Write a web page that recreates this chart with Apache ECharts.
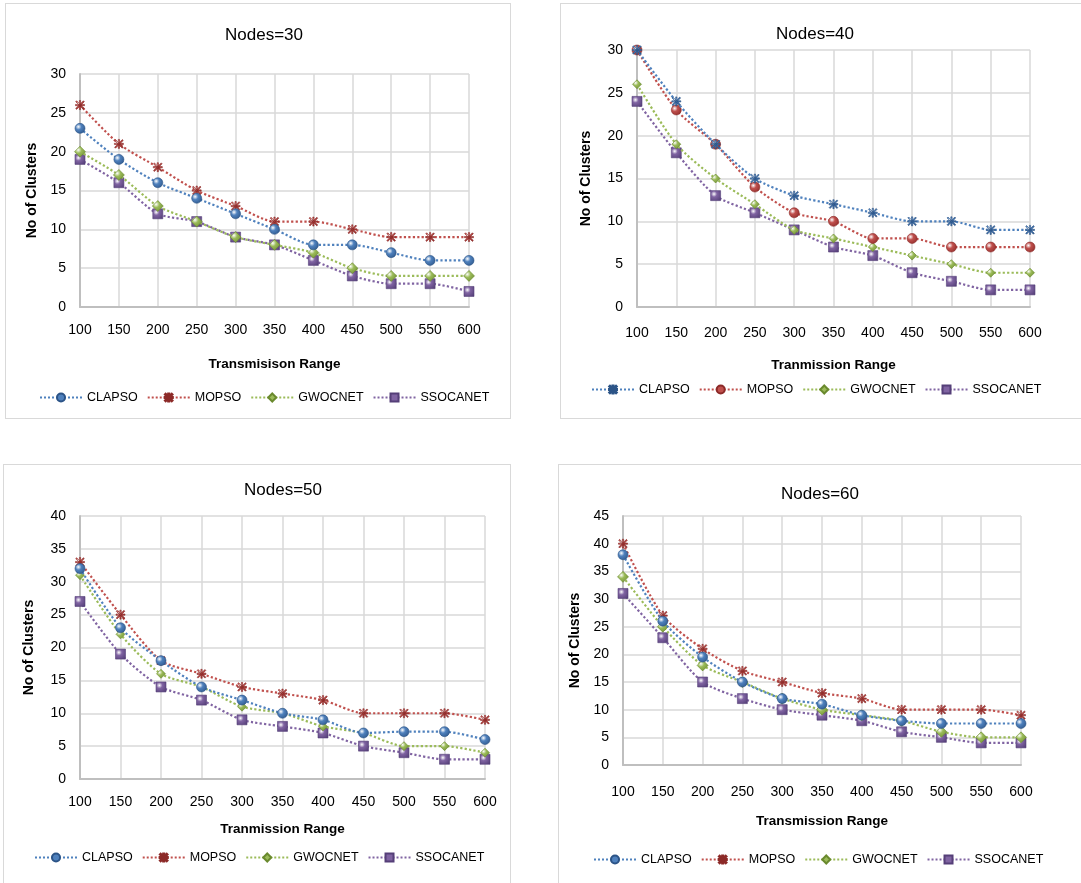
<!DOCTYPE html>
<html>
<head>
<meta charset="utf-8">
<script src="https://cdn.jsdelivr.net/npm/echarts@6/dist/echarts.min.js"></script>
<style>
  body { margin: 0; background: #fff; width: 1081px; height: 883px; position: relative; overflow: hidden; }
  .panel { position: absolute; border: 1.5px solid #d9d9d9; box-sizing: border-box; background: #fff; }
</style>
</head>
<body>
<div class="panel" id="p30" style="left:5px; top:3px; width:506px; height:416px;"></div>
<div class="panel" id="p40" style="left:560px; top:3px; width:523px; height:416px;"></div>
<div class="panel" id="p50" style="left:3px; top:464px; width:508px; height:421px;"></div>
<div class="panel" id="p60" style="left:558px; top:464px; width:525px; height:421px;"></div>
<script>
// transmission range (x axis)
const ranges = ['100', '150', '200', '250', '300', '350', '400', '450', '500', '550', '600']
const names = ['CLAPSO', 'MOPSO', 'GWOCNET', 'SSOCANET']

// Nodes=30
const clapso30 = [23, 19, 16, 14, 12, 10, 8, 8, 7, 6, 6]
const mopso30 = [26, 21, 18, 15, 13, 11, 11, 10, 9, 9, 9]
const gwocnet30 = [20, 17, 13, 11, 9, 8, 7, 5, 4, 4, 4]
const ssocanet30 = [19, 16, 12, 11, 9, 8, 6, 4, 3, 3, 2]

// Nodes=40
const clapso40 = [30, 24, 19, 15, 13, 12, 11, 10, 10, 9, 9]
const mopso40 = [30, 23, 19, 14, 11, 10, 8, 8, 7, 7, 7]
const gwocnet40 = [26, 19, 15, 12, 9, 8, 7, 6, 5, 4, 4]
const ssocanet40 = [24, 18, 13, 11, 9, 7, 6, 4, 3, 2, 2]

// Nodes=50
const clapso50 = [32, 23, 18, 14, 12, 10, 9, 7, 7.2, 7.2, 6]
const mopso50 = [33, 25, 18, 16, 14, 13, 12, 10, 10, 10, 9]
const gwocnet50 = [31, 22, 16, 14, 11, 10, 8, 7, 5, 5, 4]
const ssocanet50 = [27, 19, 14, 12, 9, 8, 7, 5, 4, 3, 3]

// Nodes=60
const clapso60 = [38, 26, 19.5, 15, 12, 11, 9, 8, 7.5, 7.5, 7.5]
const mopso60 = [40, 27, 21, 17, 15, 13, 12, 10, 10, 10, 9]
const gwocnet60 = [34, 25, 18, 15, 12, 10, 9, 8, 6, 5, 5]
const ssocanet60 = [31, 23, 15, 12, 10, 9, 8, 6, 5, 4, 4]

const colors = ['#4F81BD', '#C0504D', '#9BBB59', '#8064A2']
const dark = ['#2c5487', '#8c2a28', '#6a8a2e', '#553f78']
const star = 'path://M4.3,0h1.4v10h-1.4z M0.2,1.2l1,-1l8.6,8.6l-1,1z M8.8,0.2l1,1l-8.6,8.6l-1,-1z M0,4.3h10v1.4h-10z'
const font = 'Liberation Sans'

function makeChart(id, cfg) {
  const chart = echarts.init(document.getElementById(id))
  const series = cfg.data.map((d, i) => ({
    name: names[i],
    type: 'line',
    data: d,
    smooth: 0.25,
    symbol: cfg.symbols[i],
    symbolSize: cfg.sizes[i],
    symbolKeepAspect: true,
    lineStyle: { type: 'dotted', width: 2.2, color: colors[i] },
    itemStyle: {
      color: new echarts.graphic.RadialGradient(0.35, 0.35, 0.8, [
        { offset: 0, color: '#ffffff' },
        { offset: 0.35, color: colors[i] },
        { offset: 1, color: dark[i] }
      ]),
      borderColor: dark[i],
      borderWidth: 0.6
    },
    z: 10 - i
  }))
  chart.setOption({
    animation: false,
    textStyle: { fontFamily: font },
    title: {
      text: cfg.title,
      left: cfg.titleX,
      top: cfg.titleY,
      textAlign: 'center',
      textStyle: { fontFamily: font, fontSize: 17, fontWeight: 'normal', color: '#000' }
    },
    legend: {
      data: names.map((n, i) => ({ name: n, itemStyle: { color: colors[i] } })),
      left: cfg.legendX,
      top: cfg.legendY,
      itemWidth: 42,
      itemHeight: 10,
      itemGap: cfg.legendGap,
      textStyle: { fontFamily: font, fontSize: 12.5, color: '#000' }
    },
    grid: cfg.grid,
    xAxis: {
      type: 'category',
      data: ranges,
      boundaryGap: false,
      name: cfg.xName,
      nameLocation: 'middle',
      nameGap: cfg.xNameGap,
      nameTextStyle: { fontFamily: font, fontSize: 13.5, fontWeight: 'bold', color: '#000' },
      axisLine: { lineStyle: { color: '#bfbfbf', width: 2 } },
      axisTick: { show: false },
      axisLabel: { margin: cfg.xLabelMargin, fontSize: 14, color: '#000', fontFamily: font },
      splitLine: { show: true, lineStyle: { color: '#d9d9d9', width: 1.5 } }
    },
    yAxis: {
      type: 'value',
      min: 0,
      max: cfg.yMax,
      interval: 5,
      name: 'No of Clusters',
      nameLocation: 'middle',
      nameGap: cfg.yNameGap,
      nameTextStyle: { fontFamily: font, fontSize: 14, fontWeight: 'bold', color: '#000' },
      axisLine: { show: true, lineStyle: { color: '#bfbfbf', width: 2 } },
      axisTick: { show: false },
      axisLabel: { margin: 14, fontSize: 14, color: '#000', fontFamily: font },
      splitLine: { show: true, lineStyle: { color: '#d9d9d9', width: 1.5 } }
    },
    series: series
  })
}

makeChart('p30', {
  title: 'Nodes=30', titleX: 253, titleY: 18,
  grid: { left: 74, top: 70, width: 389, height: 233 },
  yMax: 30, xName: 'Transmisison Range', xNameGap: 50, yNameGap: 40, xLabelMargin: 16,
  legendX: 28, legendY: 382, legendGap: 9,
  data: [clapso30, mopso30, gwocnet30, ssocanet30],
  symbols: ['circle', star, 'diamond', 'rect'],
  sizes: [10, 9, 11, 10]
})

makeChart('p40', {
  title: 'Nodes=40', titleX: 249, titleY: 17,
  grid: { left: 76, top: 46, width: 393, height: 257 },
  yMax: 30, xName: 'Tranmission Range', xNameGap: 51, yNameGap: 44, xLabelMargin: 19,
  legendX: 25, legendY: 374, legendGap: 9,
  data: [clapso40, mopso40, gwocnet40, ssocanet40],
  symbols: [star, 'circle', 'diamond', 'rect'],
  sizes: [9, 10, 9, 10]
})

makeChart('p50', {
  title: 'Nodes=50', titleX: 274, titleY: 12,
  grid: { left: 76, top: 51, width: 405, height: 263 },
  yMax: 40, xName: 'Tranmission Range', xNameGap: 43, yNameGap: 44, xLabelMargin: 16,
  legendX: 25, legendY: 381, legendGap: 9,
  data: [clapso50, mopso50, gwocnet50, ssocanet50],
  symbols: ['circle', star, 'diamond', 'rect'],
  sizes: [10, 9, 9, 10]
})

makeChart('p60', {
  title: 'Nodes=60', titleX: 256, titleY: 16,
  grid: { left: 64, top: 51, width: 398, height: 249 },
  yMax: 45, xName: 'Transmission Range', xNameGap: 49, yNameGap: 38, xLabelMargin: 20,
  legendX: 29, legendY: 383, legendGap: 9,
  data: [clapso60, mopso60, gwocnet60, ssocanet60],
  symbols: ['circle', star, 'diamond', 'rect'],
  sizes: [10, 9, 11, 10]
})
</script>
</body>
</html>
